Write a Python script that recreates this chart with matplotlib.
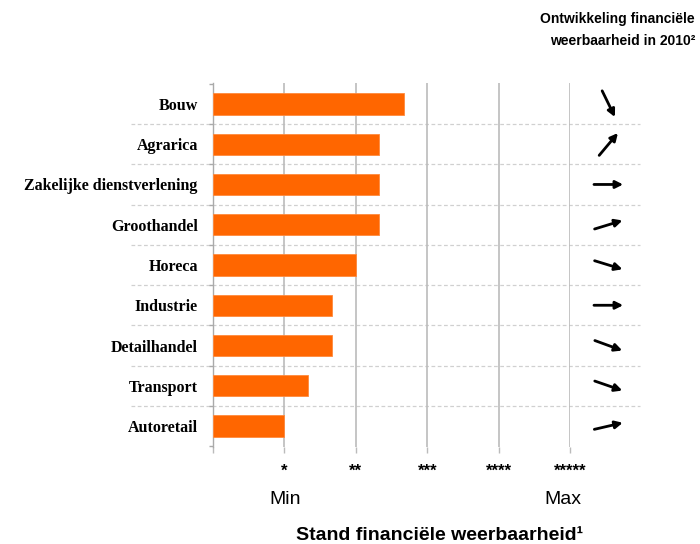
import matplotlib
matplotlib.use("Agg")
import matplotlib.pyplot as plt
import matplotlib.transforms as mtransforms
import numpy as np

sectors = ['Bouw', 'Agrarica', 'Zakelijke dienstverlening', 'Groothandel', 'Horeca',
           'Industrie', 'Detailhandel', 'Transport', 'Autoretail']
stand = [2.67, 2.33, 2.33, 2.33, 2.0, 1.67, 1.67, 1.33, 1.0]
# direction of the trend arrow, degrees (0 = flat, + = up)
trend_angle = [-64, 50, 0, 17, -17, 0, -20, -19, 13]
star_labels = ['*', '**', '***', '****', '*****']

fig = plt.figure(figsize=(7, 5.44), dpi=100)
ax = fig.add_axes([213 / 700, 1 - 447 / 544, 357 / 700, 364 / 544])

y = np.arange(len(sectors))
ax.barh(y, stand, height=0.53, color='#FF6600', edgecolor='#FF8A3D', linewidth=0.6, zorder=3)

ax.set_xlim(0, 5)
ax.set_ylim(len(sectors) - 0.48, -0.52)

# vertical grid lines at the star levels
for x in range(1, 6):
    ax.axvline(x, color='#BBBBBB', linewidth=1.2, zorder=1)

# dashed separators between sectors, running out to the arrow column
for b in np.arange(0.5, len(sectors) - 1, 1.0):
    ax.plot([-1.15, 5.98], [b, b], color='#D0D0D0', linewidth=0.9,
            linestyle=(0, (3, 2)), clip_on=False, zorder=0)

for s in ['top', 'right', 'bottom']:
    ax.spines[s].set_visible(False)
ax.spines['left'].set_color('#AAAAAA')
ax.spines['left'].set_linewidth(1.0)

ax.set_yticks(y)
ax.set_yticklabels(sectors, fontfamily='Liberation Serif', fontweight='bold', fontsize=11.5)
ax.tick_params(axis='y', which='major', length=0, pad=11)
ax.set_yticks(np.arange(-0.5, len(sectors), 1.0), minor=True)
ax.tick_params(axis='y', which='minor', length=3, color='#AAAAAA', width=1.0)

ax.set_xticks(range(0, 6))
ax.set_xticklabels([''] + star_labels, fontfamily='Liberation Sans', fontsize=12, fontweight='bold')
ax.tick_params(axis='x', length=4, color='#BBBBBB', width=1.0, pad=8)

# trend arrows
L = 10.5  # half length in points
for i, ang in enumerate(trend_angle):
    a = np.deg2rad(ang)
    dx, dy = L * np.cos(a), L * np.sin(a)
    tip = ax.transData + mtransforms.ScaledTranslation(dx / 72, dy / 72, fig.dpi_scale_trans)
    tail = ax.transData + mtransforms.ScaledTranslation(-dx / 72, -dy / 72, fig.dpi_scale_trans)
    ax.annotate('', xy=(5.54, i), xycoords=tip, xytext=(5.54, i), textcoords=tail,
                arrowprops=dict(arrowstyle='-|>', color='black', lw=2.0,
                                mutation_scale=11, shrinkA=0, shrinkB=0),
                annotation_clip=False)

fig.text(695 / 700, 1 - 19 / 544, 'Ontwikkeling financiële', ha='right', va='center',
         fontfamily='Liberation Sans', fontweight='bold', fontsize=10)
fig.text(695 / 700, 1 - 41 / 544, 'weerbaarheid in 2010²', ha='right', va='center',
         fontfamily='Liberation Sans', fontweight='bold', fontsize=10)

fig.text(285 / 700, 1 - 499 / 544, 'Min', ha='center', va='center',
         fontfamily='Liberation Sans', fontsize=14)
fig.text(563 / 700, 1 - 499 / 544, 'Max', ha='center', va='center',
         fontfamily='Liberation Sans', fontsize=14)
fig.text(440 / 700, 1 - 535 / 544, 'Stand financiële weerbaarheid¹', ha='center', va='center',
         fontfamily='Liberation Sans', fontweight='bold', fontsize=14)

fig.savefig('out.png', dpi=100)
